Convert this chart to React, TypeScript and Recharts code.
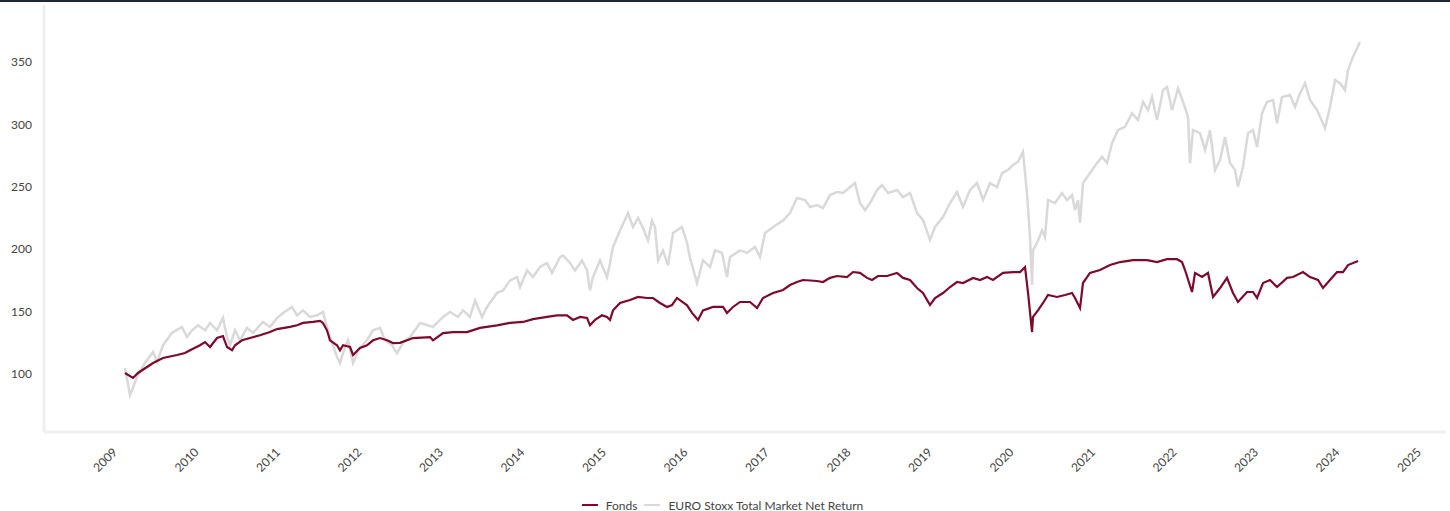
import React from "react";
import { LineChart, Line, XAxis, YAxis, Legend } from "recharts";

const yearTicks = [2009, 2010, 2011, 2012, 2013, 2014, 2015, 2016, 2017, 2018, 2019, 2020, 2021, 2022, 2023, 2024, 2025];
const valueTicks = [100, 150, 200, 250, 300, 350];
const seriesNames = ["Fonds", "EURO Stoxx Total Market Net Return"];

const benchT = [
  2009.135, 2009.196, 2009.282, 2009.38, 2009.479, 2009.528, 2009.601, 2009.712, 2009.834, 2009.896,
  2009.957, 2010.031, 2010.117, 2010.178, 2010.264, 2010.337, 2010.387, 2010.423, 2010.485, 2010.546,
  2010.632, 2010.706, 2010.828, 2010.914, 2011.0, 2011.074, 2011.184, 2011.246, 2011.319, 2011.405,
  2011.491, 2011.564, 2011.613, 2011.675, 2011.736, 2011.773, 2011.834, 2011.871, 2011.933, 2011.994,
  2012.104, 2012.178, 2012.264, 2012.325, 2012.411, 2012.472, 2012.546, 2012.632, 2012.755, 2012.914,
  2013.037, 2013.123, 2013.221, 2013.282, 2013.368, 2013.43, 2013.515, 2013.577, 2013.7, 2013.773,
  2013.859, 2013.945, 2013.982, 2014.068, 2014.141, 2014.227, 2014.313, 2014.374, 2014.472, 2014.509,
  2014.595, 2014.656, 2014.742, 2014.804, 2014.84, 2014.877, 2014.963, 2015.049, 2015.086, 2015.123,
  2015.209, 2015.307, 2015.368, 2015.429, 2015.491, 2015.552, 2015.601, 2015.638, 2015.675, 2015.736,
  2015.798, 2015.859, 2015.969, 2016.031, 2016.068, 2016.153, 2016.227, 2016.313, 2016.374, 2016.46,
  2016.521, 2016.558, 2016.681, 2016.767, 2016.865, 2016.926, 2016.988, 2017.086, 2017.209, 2017.294,
  2017.38, 2017.479, 2017.54, 2017.626, 2017.699, 2017.785, 2017.871, 2017.945, 2018.031, 2018.092,
  2018.153, 2018.215, 2018.276, 2018.362, 2018.423, 2018.497, 2018.607, 2018.681, 2018.767, 2018.853,
  2018.926, 2019.012, 2019.074, 2019.172, 2019.258, 2019.344, 2019.417, 2019.503, 2019.589, 2019.663,
  2019.748, 2019.834, 2019.896, 2019.969, 2020.031, 2020.092, 2020.153, 2020.202, 2020.239, 2020.264,
  2020.276, 2020.325, 2020.387, 2020.423, 2020.46, 2020.546, 2020.632, 2020.693, 2020.755, 2020.791,
  2020.828, 2020.853, 2020.889, 2020.975, 2021.061, 2021.123, 2021.184, 2021.245, 2021.319, 2021.405,
  2021.491, 2021.564, 2021.626, 2021.687, 2021.736, 2021.798, 2021.871, 2021.92, 2021.982, 2022.055,
  2022.117, 2022.178, 2022.202, 2022.239, 2022.325, 2022.387, 2022.448, 2022.509, 2022.571, 2022.632,
  2022.693, 2022.755, 2022.791, 2022.853, 2022.914, 2022.975, 2023.025, 2023.086, 2023.147, 2023.221,
  2023.27, 2023.331, 2023.429, 2023.491, 2023.552, 2023.614, 2023.675, 2023.761, 2023.859, 2023.92,
  2023.982, 2024.043, 2024.104, 2024.141, 2024.202, 2024.288,
];
const benchV = [
  104.8, 83, 97.6, 108.8, 117.6, 109.6, 123, 133, 137.7, 129.6,
  135, 139, 135, 140.9, 135, 144.9, 129.6, 123, 135, 127,
  136.9, 133, 141.7, 137.7, 144.9, 148.9, 153.7, 147, 151, 145.7,
  147, 149.7, 137.7, 124.8, 113.6, 108.8, 121.6, 127, 108.8, 119,
  127, 135, 136.9, 127, 123, 116.8, 124.8, 129.6, 140.9, 137.7,
  145.7, 149.7, 145.7, 151, 145.7, 159, 145.7, 153.7, 165, 167,
  175, 177.7, 169.7, 183, 177.7, 185.7, 189, 181, 193.7, 195,
  189, 183, 191, 183, 167, 177.7, 191, 177.7, 189, 201.8,
  215, 229, 217.8, 225, 217, 207, 223, 217.8, 191, 199,
  187, 213, 217.8, 205, 193, 173, 191, 185.7, 199, 197,
  177.7, 193.7, 199, 197, 201.8, 193.7, 213, 217.8, 223, 229,
  241, 239.4, 233.8, 235.4, 233, 243.4, 245.8, 245, 249.8, 253,
  237, 231.4, 237, 247.4, 251.4, 245, 247.4, 241.8, 245, 229,
  223.4, 207.4, 217.8, 225.8, 237, 245.8, 233.8, 247.4, 253, 239.4,
  253, 249.8, 261, 263.5, 267.5, 270, 278, 245, 209.8, 171.3,
  199, 205, 215, 209.8, 239.4, 237, 245, 239.4, 243.4, 231.4,
  239.4, 221, 253, 261, 269, 274, 269, 285, 295.5, 298,
  309, 303.5, 318, 311.5, 322, 303.5, 327.5, 330, 311.5, 329,
  318, 306, 269, 295.5, 293, 279.5, 295.5, 263.5, 271.5, 290,
  269, 263.5, 250, 266, 293, 295.5, 282, 309, 318, 319.5,
  301, 322, 323.6, 314, 325, 333, 319.5, 311.5, 297, 314,
  335.6, 333, 327.5, 343.6, 354, 366,
];

const fondsT = [
  2009.135, 2009.233, 2009.294, 2009.405, 2009.479, 2009.601, 2009.773, 2009.871, 2009.933, 2010.055,
  2010.117, 2010.178, 2010.264, 2010.337, 2010.387, 2010.448, 2010.485, 2010.571, 2010.669, 2010.791,
  2010.914, 2011.0, 2011.16, 2011.246, 2011.319, 2011.442, 2011.528, 2011.564, 2011.613, 2011.65,
  2011.736, 2011.773, 2011.81, 2011.896, 2011.933, 2012.018, 2012.104, 2012.178, 2012.264, 2012.35,
  2012.423, 2012.509, 2012.669, 2012.877, 2012.914, 2013.037, 2013.16, 2013.331, 2013.491, 2013.7,
  2013.859, 2014.018, 2014.141, 2014.313, 2014.436, 2014.558, 2014.632, 2014.718, 2014.804, 2014.84,
  2014.902, 2014.988, 2015.049, 2015.086, 2015.123, 2015.209, 2015.331, 2015.429, 2015.54, 2015.613,
  2015.699, 2015.785, 2015.847, 2015.908, 2015.969, 2016.031, 2016.092, 2016.166, 2016.227, 2016.35,
  2016.472, 2016.521, 2016.595, 2016.681, 2016.804, 2016.89, 2016.963, 2017.086, 2017.209, 2017.294,
  2017.38, 2017.454, 2017.626, 2017.699, 2017.785, 2017.871, 2017.994, 2018.067, 2018.153, 2018.239,
  2018.301, 2018.374, 2018.485, 2018.607, 2018.681, 2018.767, 2018.853, 2018.926, 2019.012, 2019.074,
  2019.172, 2019.258, 2019.344, 2019.417, 2019.54, 2019.626, 2019.712, 2019.785, 2019.908, 2020.031,
  2020.117, 2020.178, 2020.215, 2020.264, 2020.276, 2020.337, 2020.399, 2020.46, 2020.571, 2020.669,
  2020.755, 2020.791, 2020.853, 2020.889, 2020.975, 2021.098, 2021.221, 2021.344, 2021.503, 2021.675,
  2021.798, 2021.92, 2022.043, 2022.104, 2022.141, 2022.227, 2022.264, 2022.35, 2022.423, 2022.485,
  2022.571, 2022.656, 2022.73, 2022.791, 2022.902, 2022.975, 2023.025, 2023.098, 2023.184, 2023.27,
  2023.393, 2023.466, 2023.589, 2023.675, 2023.773, 2023.834, 2023.92, 2024.006, 2024.08, 2024.141,
  2024.264,
];
const fondsV = [
  100.8, 96.8, 100.8, 105.6, 108.8, 112.8, 115.2, 116.8, 119, 123,
  125.6, 121.6, 128.8, 130.4, 121.6, 119, 123, 127, 128.8, 131,
  133.6, 136, 137.7, 139, 140.9, 141.7, 142.5, 140.9, 135, 127,
  123, 119, 123, 121.6, 115.2, 120.8, 123, 127, 128.8, 127,
  124.8, 125, 128.8, 129.6, 127, 132.8, 133.6, 133.6, 136.9, 139,
  140.9, 141.7, 144, 145.7, 147, 147, 143.3, 145.7, 144.9, 139,
  143.3, 147, 145.7, 143.3, 151, 156.9, 159.3, 161.7, 160.9, 160.9,
  156.9, 153.7, 155.3, 160.9, 158, 155, 148.9, 143.3, 151, 153.7,
  153.7, 148.9, 153.7, 157.7, 157.7, 152.9, 160.9, 164.9, 167.3, 171.3,
  173.7, 175.3, 174.5, 173.7, 177, 178.5, 177.7, 181.7, 181, 177,
  175.3, 178.5, 178.5, 181, 177, 175.3, 168.9, 164.9, 155.3, 160.9,
  164.9, 169.7, 173.7, 172.9, 177, 175.3, 177.7, 175.3, 181, 181.7,
  181.7, 185.7, 164.9, 133.6, 145.7, 151, 156.9, 163.3, 161.7, 163.3,
  164.9, 160.9, 152.9, 172.9, 181, 183.3, 187.3, 189.7, 191.3, 191.3,
  189.7, 192, 192, 189.7, 183.3, 165.7, 181, 177.7, 181, 161.7,
  168.9, 177, 164.9, 157.7, 165.7, 165.7, 160.9, 172.9, 175.3, 169.7,
  177, 177.7, 181.7, 177.7, 175.3, 168.9, 175.3, 181.7, 181.7, 187.3,
  190.5,
];

const benchData = benchT.map((t, i) => ({ t, v: benchV[i] }));
const fondsData = fondsT.map((t, i) => ({ t, v: fondsV[i] }));

const FONT = "Lato, 'Open Sans', sans-serif";
const RED = "#7d0a2d";
const GRAY = "#d9d9d9";
const TEXT = "#444444";

const XTick = (props: any) => {
  const { x, y, payload } = props;
  return (
    <g transform={`translate(${x + 4},${y + 21})`}>
      <text transform="rotate(-45)" textAnchor="end" fill={TEXT} fontSize={12} fontFamily={FONT}>
        {payload.value}
      </text>
    </g>
  );
};

const LegendContent = () => (
  <div
    style={{
      display: "flex",
      justifyContent: "center",
      alignItems: "center",
      height: 24,
      paddingTop: 12,
      boxSizing: "border-box",
      fontFamily: FONT,
      fontSize: 12,
      color: TEXT,
    }}
  >
    <span style={{ display: "inline-block", width: 16, height: 2, background: RED, marginRight: 8 }} />
    <span style={{ marginRight: 7 }}>{seriesNames[0]}</span>
    <span style={{ display: "inline-block", width: 16, height: 2, background: GRAY, marginRight: 8 }} />
    <span>{seriesNames[1]}</span>
  </div>
);

export default function App() {
  return (
    <div style={{ position: "absolute", left: 0, top: 0, width: 1450, height: 511, background: "#fff" }}>
      <div style={{ position: "absolute", left: 0, top: 0, width: 1450, height: 2, background: "#1e2738" }} />
      <LineChart width={1450} height={511} margin={{ top: 5, right: 5, left: 0, bottom: 0 }}>
        <XAxis
          type="number"
          dataKey="t"
          domain={[2008.141, 2025.331]}
          ticks={yearTicks}
          interval={0}
          allowDataOverflow
          height={55}
          axisLine={{ stroke: "#efefef", strokeWidth: 3 }}
          tickLine={false}
          tickSize={0}
          tickMargin={0}
          tick={<XTick />}
        />
        <YAxis
          type="number"
          domain={[53.5, 395.7]}
          ticks={valueTicks}
          allowDataOverflow
          width={44}
          axisLine={{ stroke: "#efefef", strokeWidth: 3 }}
          tickLine={false}
          tickSize={0}
          tickMargin={12}
          tick={{ fill: TEXT, fontSize: 12, fontFamily: FONT }}
        />
        <Legend verticalAlign="bottom" height={24} content={<LegendContent />} />
        <Line
          data={benchData}
          dataKey="v"
          name={seriesNames[1]}
          stroke={GRAY}
          strokeWidth={2.5}
          dot={false}
          isAnimationActive={false}
        />
        <Line
          data={fondsData}
          dataKey="v"
          name={seriesNames[0]}
          stroke={RED}
          strokeWidth={2.2}
          dot={false}
          isAnimationActive={false}
        />
      </LineChart>
    </div>
  );
}
